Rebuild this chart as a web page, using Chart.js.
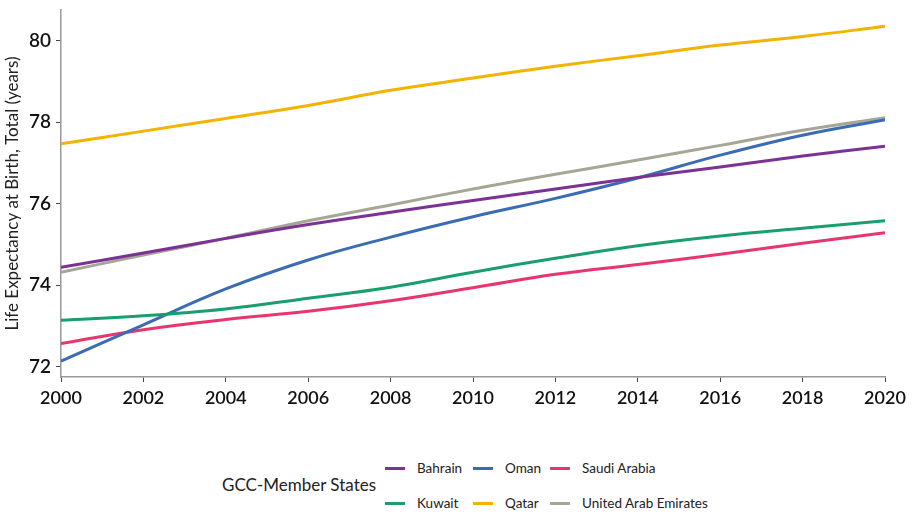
<!DOCTYPE html>
<html lang="en">
<head>
    <meta charset="UTF-8">
    <script src="https://cdn.jsdelivr.net/npm/chart.js"></script>
    <title>GCC Life Expectancy</title>
    <style>
        body { margin: 0; background: #fff; font-family: Lato, sans-serif; }
        #wrap { position: relative; width: 914px; height: 514px; }
        #chartBox { position: absolute; left: 0; top: 0; width: 914px; height: 412px; }
        #legendTitle { position: absolute; left: 222px; top: 474px; font-size: 17px; color: #222; }
        .item { position: absolute; font-size: 13.5px; color: #222; white-space: nowrap; line-height: 16px; }
        .item span.swatch { position: absolute; left: 0; top: 7px; width: 20px; height: 3px; }
    </style>
</head>
<body>
<div id="wrap">
    <div id="chartBox"><canvas id="lifeChart"></canvas></div>
    <div id="legendTitle">GCC-Member States</div>
    <div id="legend"></div>
</div>

<script>
    const years = [2000, 2002, 2004, 2006, 2008, 2010, 2012, 2014, 2016, 2018, 2020];
    const countries = ['Bahrain', 'Kuwait', 'Oman', 'Qatar', 'Saudi Arabia', 'United Arab Emirates'];
    const colors = ['#7b3294', '#1a9e6e', '#3a6cb5', '#f3b300', '#e8356d', '#a6a696'];

    const bahrain = [74.44, 74.79, 75.15, 75.49, 75.79, 76.08, 76.36, 76.64, 76.90, 77.17, 77.41];
    const kuwait  = [73.14, 73.25, 73.42, 73.68, 73.95, 74.32, 74.66, 74.97, 75.21, 75.40, 75.58];
    const oman    = [72.14, 73.03, 73.91, 74.62, 75.18, 75.68, 76.13, 76.63, 77.19, 77.68, 78.06];
    const qatar   = [77.47, 77.78, 78.09, 78.41, 78.78, 79.08, 79.37, 79.63, 79.89, 80.10, 80.35];
    const saudi   = [72.57, 72.91, 73.16, 73.36, 73.62, 73.94, 74.27, 74.51, 74.76, 75.03, 75.29];
    const uae     = [74.32, 74.74, 75.15, 75.58, 75.97, 76.36, 76.72, 77.07, 77.43, 77.80, 78.11];

    const yTicks = [72, 74, 76, 78, 80];
    const seriesValues = [bahrain, kuwait, oman, qatar, saudi, uae];

    const datasets = countries.map((name, i) => ({
        label: name,
        data: years.map((yr, j) => ({ x: yr, y: seriesValues[i][j] })),
        borderColor: colors[i],
        backgroundColor: colors[i],
        borderWidth: 3,
        pointRadius: 0,
        tension: 0.4,
        fill: false
    }));

    const ctx = document.getElementById('lifeChart').getContext('2d');
    const lifeChart = new Chart(ctx, {
        type: 'line',
        data: { datasets: datasets },
        options: {
            responsive: true,
            maintainAspectRatio: false,
            animation: false,
            layout: { padding: { top: 10, right: 29, left: 0, bottom: 0 } },
            plugins: {
                legend: { display: false },
                tooltip: { enabled: false }
            },
            scales: {
                x: {
                    type: 'linear',
                    min: 2000,
                    max: 2020,
                    afterFit: (s) => { s.height = 35; },
                    ticks: {
                        stepSize: 2,
                        color: '#111',
                        padding: 5,
                        maxRotation: 0,
                        font: { family: 'Lato', size: 18, weight: '600' },
                        callback: (v) => String(v)
                    },
                    grid: { drawOnChartArea: false, drawTicks: true, tickLength: 5, color: '#444' },
                    border: { color: '#999', width: 1.5 }
                },
                y: {
                    min: 71.75,
                    max: 80.75,
                    afterFit: (s) => { s.width = 61; s.paddingTop = 0; s.paddingBottom = 0; },
                    afterBuildTicks: (s) => { s.ticks = yTicks.map(v => ({ value: v })); },
                    ticks: {
                        color: '#111',
                        padding: 5,
                        font: { family: 'Lato', size: 19, weight: '600' }
                    },
                    grid: { drawOnChartArea: false, drawTicks: true, tickLength: 5, color: '#444' },
                    border: { color: '#999', width: 1.5 },
                    title: {
                        display: true,
                        text: 'Life Expectancy at Birth, Total (years)',
                        color: '#222',
                        font: { family: 'Lato', size: 17 },
                        padding: { top: 2, bottom: 0 }
                    }
                }
            }
        }
    });

    // legend: two rows, filled column by column
    const colLeft = [385, 473, 550];
    const rowTop = [460, 495];
    const legend = document.getElementById('legend');
    lifeChart.data.datasets.forEach((ds, i) => {
        const col = Math.floor(i / 2), row = i % 2;
        const el = document.createElement('div');
        el.className = 'item';
        el.style.left = colLeft[col] + 'px';
        el.style.top = rowTop[row] + 'px';
        el.style.paddingLeft = '32px';
        el.innerHTML = '<span class="swatch" style="background:' + ds.borderColor + '"></span>' + ds.label;
        legend.appendChild(el);
    });
</script>
</body>
</html>
